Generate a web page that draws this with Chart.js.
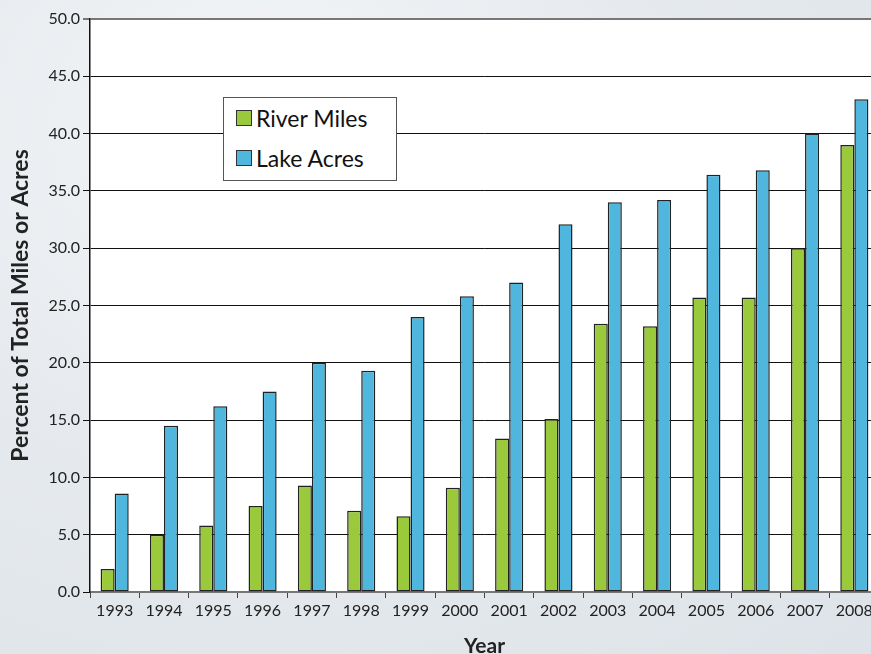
<!DOCTYPE html>
<html>
<head>
<meta charset="utf-8">
<script src="https://cdn.jsdelivr.net/npm/chart.js@4.4.0/dist/chart.umd.min.js"></script>
<style>
  html, body { margin: 0; padding: 0; overflow: hidden; }
  body {
    width: 871px; height: 654px; position: relative;
    background: radial-gradient(ellipse at 30% 20%, #f4f6f8 0%, #e6eaee 45%, #dde3e8 100%);
    font-family: Lato, "Open Sans", sans-serif;
  }
  #wrap { position: absolute; left: 0; top: 0; width: 890px; height: 654px; }
  #legend {
    position: absolute; left: 223px; top: 97px; width: 174px; height: 84px;
    background: #fff; border: 1px solid #555; box-sizing: border-box;
    padding-top: 0px;
  }
  .item { display: flex; align-items: center; height: 40px; padding-left: 12px; font-size: 23px; color: #111; }
  .sw { width: 14px; height: 14px; border: 1px solid #333; margin-right: 4px; }
</style>
</head>
<body>
<div id="wrap"><canvas id="myChart" width="890" height="654"></canvas></div>
<div id="legend"></div>
<script>
// data
const years = ['1993', '1994', '1995', '1996', '1997', '1998', '1999', '2000',
               '2001', '2002', '2003', '2004', '2005', '2006', '2007', '2008'];
const riverMiles = [2.0, 5.0, 5.8, 7.5, 9.3, 7.1, 6.6, 9.1, 13.4, 15.1, 23.4, 23.2, 25.7, 25.7, 30.0, 39.0];
const lakeAcres = [8.6, 14.5, 16.2, 17.5, 20.0, 19.3, 24.0, 25.8, 27.0, 32.1, 34.0, 34.2, 36.4, 36.8, 40.0, 43.0];
const seriesNames = ['River Miles', 'Lake Acres'];
const seriesColors = ['#9aca3c', '#4fb6de'];

// white plot area over the textured page
const plotBg = {
    id: 'plotBg',
    beforeDraw(chart) {
        const a = chart.chartArea;
        const ctx = chart.ctx;
        ctx.save();
        ctx.fillStyle = '#ffffff';
        ctx.fillRect(a.left, a.top, a.right - a.left, a.bottom - a.top);
        ctx.restore();
    }
};

// legend box (HTML, built from the series)
const legend = document.getElementById('legend');
seriesNames.forEach(function (name, i) {
    legend.innerHTML += '<div class="item"><span class="sw" style="background:' + seriesColors[i] + '"></span>' + name + '</div>';
});

const config = {
    type: 'bar',
    data: {
        labels: years,
        datasets: [
            { label: seriesNames[0], data: riverMiles, backgroundColor: seriesColors[0] },
            { label: seriesNames[1], data: lakeAcres, backgroundColor: seriesColors[1] }
        ]
    },
    options: {
        responsive: false,
        animation: false,
        layout: { padding: { left: 0, top: 19, right: 11, bottom: 0 } },
        datasets: {
            bar: {
                borderColor: '#222',
                borderWidth: 1.5,
                borderSkipped: false,
                categoryPercentage: 0.57,
                barPercentage: 1.0
            }
        },
        plugins: {
            legend: { display: false },
            tooltip: { enabled: false }
        },
        scales: {
            x: {
                grid: { display: true, drawOnChartArea: false, drawTicks: true, tickLength: 6, color: '#444', offset: true },
                border: { color: '#777', width: 2 },
                ticks: { color: '#222', font: { family: 'Lato', size: 16 }, padding: 3, maxRotation: 0, autoSkip: false },
                title: { display: true, text: 'Year', color: '#222', font: { family: 'Lato', size: 21, weight: 'bold' }, padding: { top: 16, bottom: -5 } },
                afterFit(axis) { axis.height = 62; }
            },
            y: {
                min: 0, max: 50,
                grid: {
                    color: function (c) { return c.tick && c.tick.value === 50 ? '#777' : '#111'; },
                    lineWidth: function (c) { return c.tick && c.tick.value === 50 ? 2 : 1; },
                    tickLength: 7
                },
                border: { color: '#111', width: 1.5 },
                ticks: {
                    stepSize: 5,
                    color: '#222',
                    padding: 3,
                    font: { family: 'Lato', size: 16 },
                    callback: function (v) { return v.toFixed(1); }
                },
                title: { display: true, text: 'Percent of Total Miles or Acres', color: '#222', font: { family: 'Lato', size: 23, weight: 'bold' }, padding: { top: 7, bottom: 4 } },
                afterFit(axis) { axis.width = 90; }
            }
        }
    },
    plugins: [plotBg]
};

const myChart = new Chart(document.getElementById('myChart'), config);
</script>
</body>
</html>
